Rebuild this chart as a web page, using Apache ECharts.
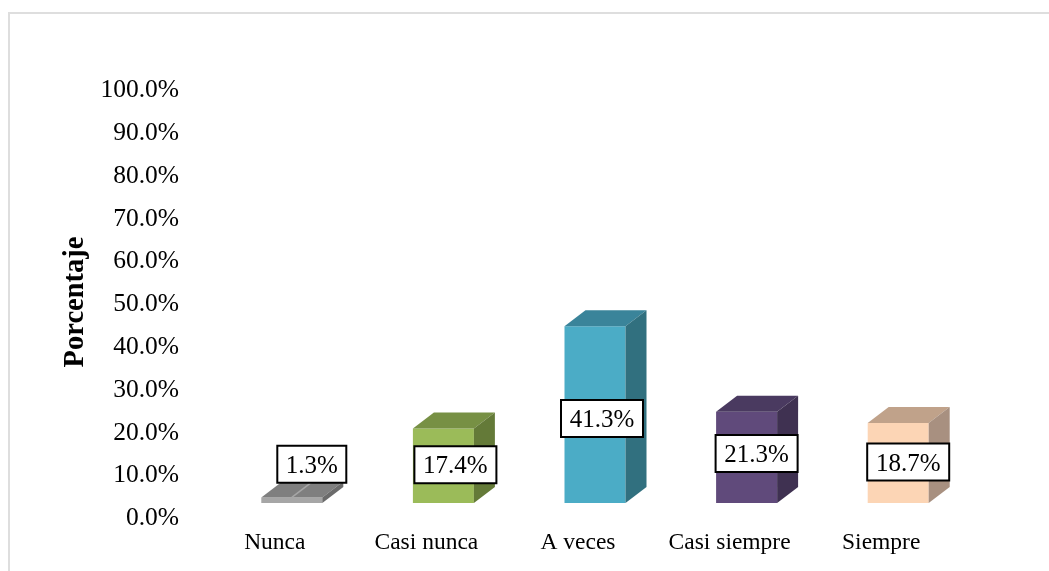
<!DOCTYPE html>
<html><head><meta charset="utf-8">
<style>html,body{margin:0;padding:0;background:#fff}#c{width:1049px;height:571px}</style>
<script src="https://cdn.jsdelivr.net/npm/echarts@6/dist/echarts.min.js"></script>
</head><body><div id="c"></div>
<script>
const categories = ['Nunca', 'Casi nunca', 'A veces', 'Casi siempre', 'Siempre'];
const values = [1.3, 17.4, 41.3, 21.3, 18.7];
const yMax = 100, yStep = 10;
const yTitle = 'Porcentaje';
const faceColors = ['#a6a6a6', '#9bbb59', '#4bacc6', '#604a7b', '#fcd5b5'];
const topColors = ['#7f7f7f', '#779044', '#3a849a', '#4a3a60', '#c0a28a'];
const sideColors = ['#6b6b6b', '#647a38', '#31707f', '#3f3151', '#a89080'];
const labelNudge = [[20, -36], [12, -1], [7, 4], [10, -4], [10, -1]];
const DX = 21, DY = 16, W = 61;
const SERIF = '"Liberation Serif", serif';

const chart = echarts.init(document.getElementById('c'), null, {renderer: 'canvas'});
chart.setOption({
  animation: false,
  backgroundColor: '#fff',
  graphic: [
    {type: 'polyline', shape: {points: [[9, 571], [9, 13], [1049, 13]]}, style: {fill: 'none', stroke: '#dedede', lineWidth: 2}},
    {type: 'text', x: 76, y: 302, rotation: Math.PI / 2,
     style: {text: yTitle, fill: '#000', font: 'bold 28.5px ' + SERIF, align: 'center', verticalAlign: 'middle'}}
  ],
  grid: {left: 216, right: 75, top: 75, bottom: 68},
  xAxis: {
    type: 'category', data: categories,
    axisLine: {show: false}, axisTick: {show: false},
    axisLabel: {interval: 0, fontFamily: SERIF, fontSize: 23.5, color: '#000', margin: 28, padding: [0, 34, 0, 0]}
  },
  yAxis: {
    type: 'value', min: 0, max: yMax, interval: yStep,
    axisLine: {show: false}, axisTick: {show: false}, splitLine: {show: false},
    axisLabel: {
      fontFamily: SERIF, fontSize: 25.5, color: '#000', margin: 37,
      verticalAlign: 'top', lineHeight: 31,
      formatter: v => v.toFixed(1) + '%'
    }
  },
  series: [{
    type: 'custom',
    coordinateSystem: 'cartesian2d',
    data: values.map((v, i) => [i, v]),
    encode: {x: 0, y: 1},
    clip: false,
    renderItem(params, api) {
      const i = api.value(0), v = api.value(1);
      const top = api.coord([i, v]), base = api.coord([i, 0]);
      const l = top[0] - W / 2, r = top[0] + W / 2, t = top[1], b = base[1];
      const poly = (pts, fill) => ({type: 'polygon', shape: {points: pts}, style: {fill}});
      const cx = top[0] + labelNudge[i][0], cy = (t + b) / 2 + labelNudge[i][1];
      const children = [
        poly([[l, t], [r, t], [r, b], [l, b]], faceColors[i]),
        poly([[l, t], [l + DX, t - DY], [r + DX, t - DY], [r, t]], topColors[i]),
        poly([[r, t], [r + DX, t - DY], [r + DX, b - DY], [r, b]], sideColors[i])
      ];
      if (v < 5) {
        children.push({type: 'line', shape: {x1: top[0], y1: t, x2: cx, y2: cy + 18}, style: {stroke: '#a6a6a6', lineWidth: 1.5}});
      }
      const txt = v.toFixed(1) + '%';
      const bw = txt.length > 4 ? 82 : 69;
      children.push({type: 'rect', shape: {x: cx - bw / 2, y: cy - 18.5, width: bw, height: 37}, style: {fill: '#fff', stroke: '#000', lineWidth: 2}});
      children.push({type: 'text', style: {x: cx, y: cy + 2, text: txt, fill: '#000', font: '25px ' + SERIF, align: 'center', verticalAlign: 'middle'}});
      return {type: 'group', children};
    }
  }]
});
</script></body></html>
